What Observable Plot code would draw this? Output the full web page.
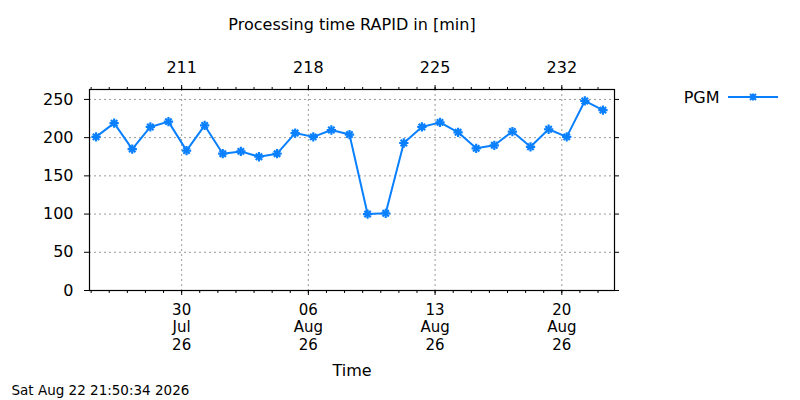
<!DOCTYPE html>
<html>
<head>
<meta charset="utf-8">
<script src="https://cdn.jsdelivr.net/npm/d3@7"></script>
<script src="https://cdn.jsdelivr.net/npm/@observablehq/plot@0.6"></script>
<style>
  html, body { margin: 0; padding: 0; background: #fff; }
  #chart svg { display: block; }
</style>
</head>
<body>
<div id="chart"></div>
<script>
// ---- data ----
const dayLabels = [
  "2026-07-25","2026-07-26","2026-07-27","2026-07-28","2026-07-29","2026-07-30","2026-07-31",
  "2026-08-01","2026-08-02","2026-08-03","2026-08-04","2026-08-05","2026-08-06","2026-08-07",
  "2026-08-08","2026-08-09","2026-08-10","2026-08-11","2026-08-12","2026-08-13","2026-08-14",
  "2026-08-15","2026-08-16","2026-08-17","2026-08-18","2026-08-19","2026-08-20","2026-08-21",
  "2026-08-22"
];
const pgmMinutes = [
  201, 219, 185, 214, 221, 183, 216,
  179, 182, 175, 179, 206, 201, 210,
  204, 100, 101, 193, 214, 220, 207,
  186, 190, 208, 188, 211, 201, 248,
  236
];
const seriesName = "PGM";
const runTime = "06:30:00";
const majorTickDays = ["2026-07-30","2026-08-06","2026-08-13","2026-08-20"];
const yTicks = [0, 50, 100, 150, 200, 250];
const xStart = "2026-07-24T21:50:34Z";
const xEnd = "2026-08-22T21:50:34Z";
const yMax = 263;
const titleText = "Processing time RAPID in [min]";
const xLabelText = "Time";
const footerText = "Sat Aug 22 21:50:34 2026";

// ---- build ----
const data = dayLabels.map((d, i) => ({ date: new Date(d + "T" + runTime + "Z"), value: pgmMinutes[i] }));
const majorTicks = majorTickDays.map(d => new Date(d + "T00:00:00Z"));
const minorTicks = d3.utcDay.range(new Date(xStart), new Date(xEnd));
const color = "#0a80ff";
const grid = "#9a9a9a";
const font = "DejaVu Sans";

const legendLine = (index, scales, values, dims) => {
  const x0 = dims.width - dims.marginRight;
  const y0 = dims.marginTop + 8;
  const g = d3.create("svg:g").attr("stroke", color).attr("stroke-width", 2).attr("fill", "none");
  g.append("line").attr("x1", x0 + 114).attr("x2", x0 + 164).attr("y1", y0).attr("y2", y0);
  const cx = x0 + 139;
  g.append("path").attr("d", `M${cx-3.5},${y0}H${cx+3.5}M${cx},${y0-3.5}V${y0+3.5}M${cx-3},${y0-3}L${cx+3},${y0+3}M${cx-3},${y0+3}L${cx+3},${y0-3}`);
  return g.node();
};

const chart = Plot.plot({
  width: 800,
  height: 400,
  marginLeft: 89,
  marginRight: 186,
  marginTop: 89,
  marginBottom: 110,
  style: { fontFamily: font, fontSize: "16px", color: "#000", background: "#fff" },
  x: { type: "utc", domain: [new Date(xStart), new Date(xEnd)], label: null },
  y: { domain: [0, yMax], label: null },
  marks: [
    Plot.gridY(yTicks, { stroke: grid, strokeOpacity: 1, strokeDasharray: "2,3" }),
    Plot.gridX(majorTicks, { stroke: grid, strokeOpacity: 1, strokeDasharray: "2,3" }),
    Plot.frame({ stroke: "#000", strokeWidth: 1.2 }),
    // bottom axis
    Plot.axisX({ ticks: minorTicks, tickSize: 3, tickFormat: () => "", label: null }),
    Plot.axisX({ ticks: majorTicks, tickSize: 5, tickPadding: 7, tickFormat: d3.utcFormat("%d\n%b\n%y"), label: null, fontSize: 15, lineHeight: 1.16 }),
    // top axis (day of year)
    Plot.axisX({ anchor: "top", ticks: minorTicks, tickSize: 3, tickFormat: () => "", label: null }),
    Plot.axisX({ anchor: "top", ticks: majorTicks, tickSize: 5, tickPadding: 12, tickFormat: d3.utcFormat("%j"), label: null, fontSize: 16 }),
    // y axes
    Plot.axisY({ ticks: yTicks, tickSize: 5, tickPadding: 11, label: null, fontSize: 16 }),
    Plot.axisY({ anchor: "right", ticks: yTicks, tickSize: 4, tickFormat: () => "", label: null }),
    // series
    Plot.line(data, { x: "date", y: "value", stroke: color, strokeWidth: 2 }),
    Plot.dot(data, { x: "date", y: "value", symbol: "plus", r: 3.1, stroke: color, strokeWidth: 2.2 }),
    Plot.dot(data, { x: "date", y: "value", symbol: "times", r: 3.0, stroke: color, strokeWidth: 2.2 }),
    // texts
    Plot.text([titleText], { text: d => d, frameAnchor: "top", dy: -65, lineAnchor: "middle", fontSize: 16 }),
    Plot.text([xLabelText], { text: d => d, frameAnchor: "bottom", dy: 80, lineAnchor: "middle", fontSize: 16 }),
    Plot.text([footerText], { text: d => d, frameAnchor: "bottom-left", dx: -78, dy: 100, textAnchor: "start", lineAnchor: "middle", fontSize: 13.5 }),
    Plot.text([seriesName], { text: d => d, frameAnchor: "top-right", dx: 105, dy: 8, textAnchor: "end", lineAnchor: "middle", fontSize: 16 }),
    legendLine
  ]
});
document.getElementById("chart").appendChild(chart);
</script>
</body>
</html>
